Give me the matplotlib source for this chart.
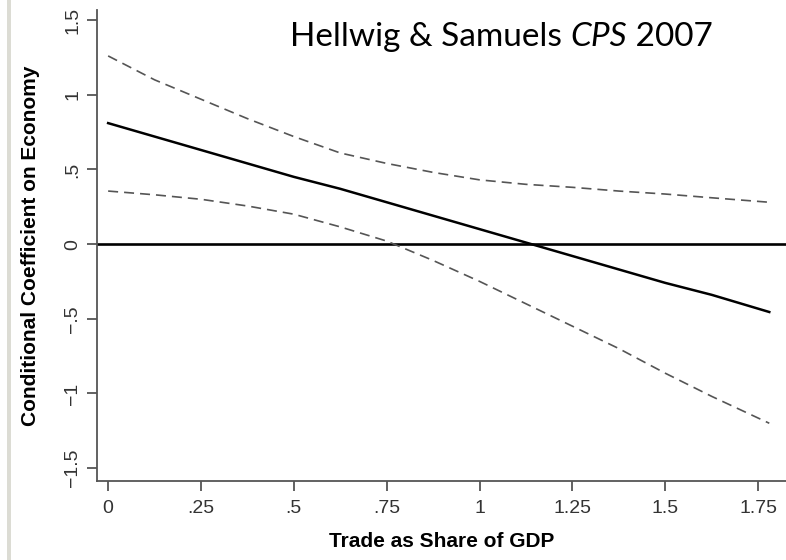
import matplotlib.pyplot as plt
from matplotlib.patches import Rectangle

# Values
trade = [0, 0.125, 0.25, 0.375, 0.5, 0.625, 0.75, 0.875, 1.0, 1.125, 1.25, 1.375, 1.5, 1.625, 1.78]
coef = [0.81, 0.72, 0.63, 0.54, 0.45, 0.37, 0.28, 0.19, 0.10, 0.01, -0.08, -0.17, -0.26, -0.34, -0.455]
upper = [1.26, 1.10, 0.97, 0.84, 0.72, 0.61, 0.54, 0.48, 0.43, 0.40, 0.38, 0.355, 0.335, 0.31, 0.28]
lower = [0.355, 0.33, 0.30, 0.255, 0.20, 0.115, 0.02, -0.11, -0.25, -0.40, -0.55, -0.70, -0.865, -1.02, -1.20]

xticks = [0, 0.25, 0.5, 0.75, 1, 1.25, 1.5, 1.75]
xticklabels = ['0', '.25', '.5', '.75', '1', '1.25', '1.5', '1.75']
yticks = [-1.5, -1, -0.5, 0, 0.5, 1, 1.5]
yticklabels = ['\u22121.5', '\u22121', '\u2212.5', '0', '.5', '1', '1.5']

plt.rcParams['font.family'] = ['Liberation Sans', 'DejaVu Sans']

fig = plt.figure(figsize=(7.86, 5.6), dpi=100)
ax = fig.add_axes([0.1234, 0.141, 0.8766, 0.841])

# thin grey slide border on the left
fig.add_artist(Rectangle((0.009, 0), 0.005, 1, transform=fig.transFigure,
                         color='#dcdcd4', lw=0))

ax.axhline(0, color='black', lw=1.9, zorder=2)
ax.plot(trade, upper, color='#555555', lw=1.2, dashes=(6, 3.6))
ax.plot(trade, lower, color='#555555', lw=1.2, dashes=(6, 3.6))
ax.plot(trade, coef, color='black', lw=1.8)

ax.set_xlim(-0.030, 1.825)
ax.set_ylim(-1.587, 1.567)

for s in ['top', 'right']:
    ax.spines[s].set_visible(False)
for s in ['left', 'bottom']:
    ax.spines[s].set_color('#555555')
    ax.spines[s].set_linewidth(1.3)

ax.set_xticks(xticks)
ax.set_xticklabels(xticklabels)
ax.set_yticks(yticks)
ax.set_yticklabels(yticklabels, rotation=90, va='center')
ax.tick_params(axis='both', length=7.5, width=1.3, color='#555555',
               labelsize=14, labelcolor='#333333')
ax.tick_params(axis='x', pad=6)
ax.tick_params(axis='y', pad=4)

ax.set_xlabel('Trade as Share of GDP', fontsize=15, fontweight='bold', labelpad=11)
ax.set_ylabel('Conditional Coefficient on Economy', fontsize=15, fontweight='bold', labelpad=17)

# title made of three pieces so that CPS can be italic
fig.text(0.369, 0.918, 'Hellwig & Samuels ', fontsize=24, family='Lato', va='baseline')
t1 = fig.texts[-1]
fig.canvas.draw()
x2 = t1.get_window_extent().x1 / fig.bbox.width
fig.text(x2, 0.918, 'CPS', fontsize=24, family='Lato', style='italic', va='baseline')
t2 = fig.texts[-1]
fig.canvas.draw()
x3 = t2.get_window_extent().x1 / fig.bbox.width
fig.text(x3, 0.918, ' 2007', fontsize=24, family='Lato', va='baseline')

fig.savefig('out.png', dpi=100)
